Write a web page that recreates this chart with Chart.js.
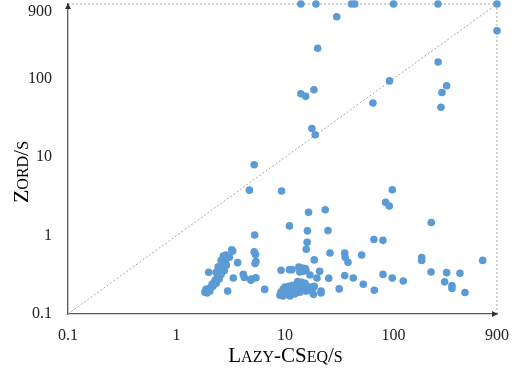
<!DOCTYPE html>
<html>
<head>
<meta charset="utf-8">
<script src="https://cdn.jsdelivr.net/npm/chart.js@4"></script>
<style>
  html, body { margin: 0; padding: 0; background: #fff; }
  #wrap { width: 516px; height: 370px; }
</style>
</head>
<body>
<div id="wrap"><canvas id="scatter"></canvas></div>
<script>
// run time per benchmark in seconds (900 = timeout)
const lazyCSeq = [
  14, 19.3, 41, 44, 100, 257, 900, 30, 900, 20,
  258, 92, 309, 18.5, 280, 14, 15.5, 64.7, 274, 17.7,
  19, 5.2, 4.7, 9.3, 97.5, 84.7, 91.5, 16.5, 23.5, 11,
  223, 16.1, 24.9, 5.25, 66, 80, 16, 15.7, 26, 5.2,
  5.35, 35.5, 35.9, 38.1, 50.9, 18.6, 5.4, 5.3, 182, 182,
  664, 9.2, 222, 309, 410, 20.9, 17, 35.5, 80, 4.9,
  5.4, 25.3, 42.6, 97.5, 123, 19.7, 296, 346, 346, 456,
  52.7, 66.5, 31.6, 6.5, 18.6, 21.5, 21.5, 18.3, 18.3,
  11, 11.6, 13.4, 14.4, 15.4, 13.7, 14.7, 15.6,
  3.23, 3.3, 2.7, 2.86, 3.07, 3.66, 1.98, 3.34, 2.96, 4.13, 4.22, 4.85,
  1.83, 1.87, 1.95, 1.99, 2.08, 2.13, 2.17, 2.22, 2.27, 2.32,
  2.37, 2.42, 2.47, 2.47, 2.53, 2.58, 2.58, 2.63, 2.7, 2.7,
  2.76, 2.82, 2.88, 2.58, 2.42, 2.32, 2.76, 2.88, 2.03, 1.91,
  9, 9.2, 9.6, 10, 10.4, 10.9, 11.3, 11.8, 12.1, 12.6,
  12.9, 13.4, 13.7, 14, 14.7, 15, 15.6, 16, 16.8, 17.2,
  10.2, 11.1, 12.3, 9.6, 13.1, 14.3, 15.3
];
const zord = [
  900, 900, 900, 900, 900, 900, 900, 620, 409, 245,
  164, 94, 81.5, 72.6, 67, 64.6, 59.7, 49.1, 43.3, 23.2,
  19.3, 8, 3.8, 3.7, 3.84, 2.65, 2.39, 1.98, 2.14, 1.33,
  1.47, 1.15, 1.16, 1.02, 0.89, 0.87, 0.82, 0.67, 0.6, 0.62,
  0.576, 0.6, 0.53, 0.456, 0.565, 0.49, 0.466, 0.44, 0.524, 0.483,
  0.483, 0.361, 0.344, 0.337, 0.331, 0.35, 0.315, 0.309, 0.32, 0.28,
  0.29, 0.286, 0.288, 0.288, 0.264, 0.288, 0.257, 0.231, 0.212, 0.188,
  0.24, 0.201, 0.209, 0.206, 0.226, 0.196, 0.185, 0.178, 0.218,
  0.368, 0.368, 0.398, 0.386, 0.38, 0.344, 0.35, 0.36,
  0.66, 0.634, 0.548, 0.565, 0.53, 0.452, 0.34, 0.288, 0.196, 0.32, 0.292, 0.27,
  0.19, 0.206, 0.196, 0.21, 0.22, 0.24, 0.226, 0.254, 0.27, 0.247,
  0.286, 0.303, 0.28, 0.33, 0.36, 0.32, 0.39, 0.43, 0.38, 0.47,
  0.51, 0.455, 0.54, 0.48, 0.4, 0.34, 0.36, 0.42, 0.196, 0.185,
  0.174, 0.19, 0.206, 0.22, 0.2, 0.226, 0.21, 0.233, 0.196, 0.21,
  0.24, 0.22, 0.19, 0.24, 0.206, 0.226, 0.196, 0.21, 0.2, 0.22,
  0.18, 0.17, 0.18, 0.17, 0.26, 0.254, 0.247
];
const tickValues = [0.1, 1, 10, 100, 900];
const axisMin = 0.1;
const axisMax = 900;

const points = lazyCSeq.map((x, i) => ({ x: x, y: zord[i] }));

const fontFamily = '"Liberation Serif", "DejaVu Serif", serif';
const axisColor = '#595959';
const dotted = '#a6a6a6';

// draws text like "Lazy-CSeq/s" in small caps
function smallCaps(ctx, text, x, y, size) {
  const small = Math.round(size * 0.74);
  const parts = [];
  let total = 0;
  for (const ch of text) {
    const isLower = ch !== ch.toUpperCase();
    const s = isLower ? small : size;
    ctx.font = s + 'px ' + fontFamily;
    const c = ch.toUpperCase();
    const w = ctx.measureText(c).width;
    parts.push({ c, s, w });
    total += w;
  }
  let cx = x - total / 2;
  parts.forEach(p => {
    ctx.font = p.s + 'px ' + fontFamily;
    ctx.fillText(p.c, cx, y);
    cx += p.w;
  });
}

// axis titles and arrow heads
const extras = {
  id: 'extras',
  afterDraw(chart) {
    const ctx = chart.ctx;
    const area = chart.chartArea;
    ctx.save();
    ctx.fillStyle = '#000';
    ctx.textAlign = 'left';
    ctx.textBaseline = 'alphabetic';
    smallCaps(ctx, 'Lazy-CSeq/s', (area.left + area.right) / 2 + 3, 362, 21);
    ctx.translate(28, 172);
    ctx.rotate(-Math.PI / 2);
    smallCaps(ctx, 'Zord/s', 0, 0, 22);
    ctx.restore();

    ctx.save();
    ctx.fillStyle = '#333';
    ctx.beginPath();
    ctx.moveTo(area.left, area.top - 1);
    ctx.lineTo(area.left - 3, area.top + 5);
    ctx.lineTo(area.left + 3, area.top + 5);
    ctx.closePath();
    ctx.fill();
    ctx.beginPath();
    ctx.moveTo(area.right + 1, area.bottom);
    ctx.lineTo(area.right - 5, area.bottom - 3);
    ctx.lineTo(area.right - 5, area.bottom + 3);
    ctx.closePath();
    ctx.fill();
    ctx.restore();
  }
};

function fixTicks(scale) {
  scale.ticks = tickValues.map(v => ({ value: v }));
}

const ctx = document.getElementById('scatter').getContext('2d');
new Chart(ctx, {
  type: 'scatter',
  data: {
    datasets: [
      {
        data: points,
        backgroundColor: '#5b9bd5',
        borderColor: '#5b9bd5',
        borderWidth: 0,
        pointRadius: 3.8,
        clip: false
      },
      {
        type: 'line',
        data: [{ x: axisMin, y: axisMin }, { x: axisMax, y: axisMax }],
        borderColor: dotted,
        borderWidth: 1,
        borderDash: [2, 2],
        pointRadius: 0
      },
      {
        type: 'line',
        data: [{ x: axisMin, y: axisMax }, { x: axisMax, y: axisMax }],
        borderColor: dotted,
        borderWidth: 1,
        borderDash: [2, 2],
        pointRadius: 0,
        clip: false
      },
      {
        type: 'line',
        data: [{ x: axisMax, y: axisMin }, { x: axisMax, y: axisMax }],
        borderColor: dotted,
        borderWidth: 1,
        borderDash: [2, 2],
        pointRadius: 0,
        clip: false
      }
    ]
  },
  options: {
    responsive: true,
    maintainAspectRatio: false,
    animation: false,
    layout: { padding: { top: 2, right: 19, left: 0, bottom: 0 } },
    plugins: {
      legend: { display: false },
      tooltip: { enabled: false }
    },
    scales: {
      x: {
        type: 'logarithmic',
        min: axisMin,
        max: axisMax,
        afterBuildTicks: fixTicks,
        afterFit(scale) {
          scale.height = 56;
          scale.paddingLeft = 0;
          scale.paddingRight = 0;
        },
        grid: { display: false, drawTicks: false },
        border: { display: true, color: axisColor, width: 1.3 },
        ticks: {
          padding: 12,
          maxRotation: 0,
          autoSkip: false,
          color: '#222',
          font: { family: fontFamily, size: 16 },
          callback: v => String(v)
        }
      },
      y: {
        type: 'logarithmic',
        min: axisMin,
        max: axisMax,
        afterBuildTicks: fixTicks,
        afterFit(scale) {
          scale.width = 68;
          scale.paddingTop = 0;
          scale.paddingBottom = 0;
        },
        grid: { display: false, drawTicks: false },
        border: { display: true, color: axisColor, width: 1.3 },
        ticks: {
          padding: 16,
          autoSkip: false,
          color: '#222',
          font: { family: fontFamily, size: 16, lineHeight: 1.0 },
          // top label sits just below the edge, like the original
          callback: v => v === axisMax ? ['', String(v)] : String(v)
        }
      }
    }
  },
  plugins: [extras]
});
</script>
</body>
</html>
